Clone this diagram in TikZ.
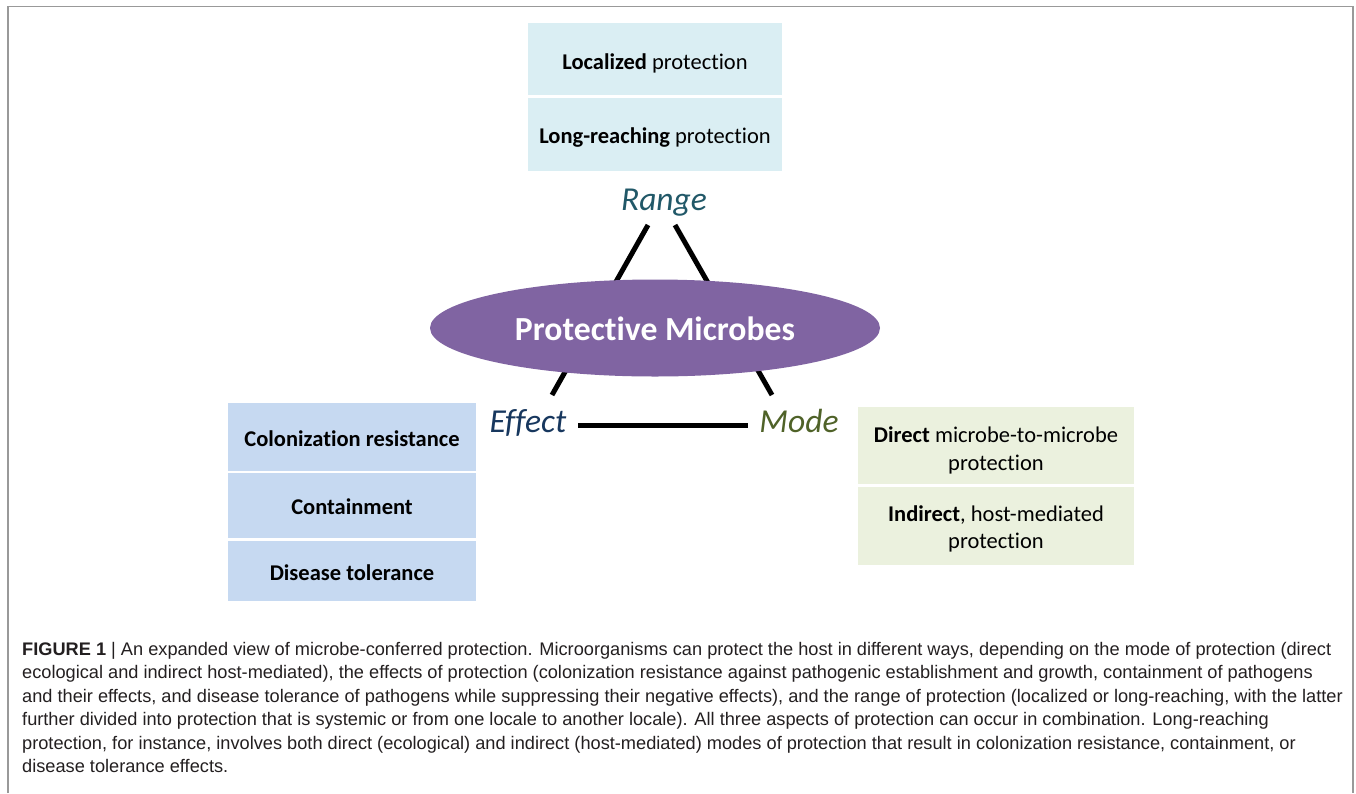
\documentclass[tikz,border=0pt]{standalone}
\usepackage{fontspec}
\setmainfont{Carlito}[Ligatures=NoCommon]
\newfontfamily\capfont{Liberation Sans}
\usetikzlibrary{shapes.geometric}
\definecolor{rangebg}{HTML}{DAEEF3}
\definecolor{effbg}{HTML}{C6D9F1}
\definecolor{modebg}{HTML}{EBF1DE}
\definecolor{microbe}{HTML}{8064A2}
\definecolor{rangecol}{HTML}{215868}
\definecolor{effcol}{HTML}{17375E}
\definecolor{modecol}{HTML}{4F6228}
\definecolor{framecol}{HTML}{999999}
\definecolor{capcol}{HTML}{231F20}
\newcommand{\laststrut}{\rule[-4.5pt]{0pt}{0pt}}
\begin{document}
\begin{tikzpicture}[x=1pt,y=-1pt,
  boxstyle/.style={inner sep=0pt, align=center, font=\fontsize{22.5}{27.4}\selectfont},
  oneline/.style={text height=22.5pt, text depth=4.5pt},
  rbox/.style={boxstyle, oneline, fill=rangebg, minimum width=254pt},
  ebox/.style={boxstyle, oneline, fill=effbg, minimum width=248pt, font=\fontsize{22.5}{27.4}\selectfont\bfseries},
  mbox/.style={boxstyle, fill=modebg, minimum width=276pt},
  aspect/.style={inner sep=0pt, text height=23.5pt, text depth=6.7pt, font=\fontsize{33.5}{38}\selectfont\itshape},
  link/.style={line width=5pt, black},
]
\useasboundingbox (0,0) rectangle (1356,793);
\draw[framecol, line width=1.5pt] (8,793) -- (8,6.5) -- (1353,6.5) -- (1353,793);

% range boxes
\node[rbox, minimum height=72pt, text height=24.5pt] (loc) at (655,59) {\textbf{Localized} protection};
\node[rbox, minimum height=73pt] (long) at (655,134.5) {\textbf{Long-reaching} protection};

% aspect labels
\node[aspect, text=rangecol] (range) at (664,202) {Range};
\node[aspect, text=effcol] (effect) at (528,424.5) {Effect};
\node[aspect, text=modecol] (mode) at (799,424) {Mode};

% connector ends
\coordinate (rl) at (648,225);
\coordinate (el) at (552,395);
\coordinate (rr) at (675,225);
\coordinate (mr) at (772,395);
\coordinate (eh) at (578,425);
\coordinate (mh) at (748,425);
\draw[link] (rl) -- (el);
\draw[link] (rr) -- (mr);
\draw[link] (eh) -- (mh);

% central ellipse
\node[ellipse, fill=microbe, minimum width=450pt, minimum height=97pt, inner sep=0pt,
  text height=32pt, text depth=6.7pt,
  text=white, font=\fontsize{33.7}{38}\selectfont\bfseries] (pm) at (655,328) {Protective Microbes};

% effect boxes
\node[ebox, minimum height=68pt] (col) at (352,437) {Colonization resistance};
\node[ebox, minimum height=65pt] (cont) at (352,505.5) {Containment};
\node[ebox, minimum height=60pt] (dis) at (352,571) {Disease tolerance};

% mode boxes
\node[mbox, minimum height=77pt] (dir) at (996,445.5) {\rule{0pt}{26.5pt}\textbf{Direct} microbe-to-microbe\\protection\laststrut};
\node[mbox, minimum height=78pt] (ind) at (996,526) {\rule{0pt}{22.3pt}\textbf{Indirect}, host-mediated\\protection\laststrut};

% caption
\node[anchor=north west, inner sep=0pt, align=left, text=capcol,
  font=\capfont\fontsize{18.2}{23.4}\selectfont] (cap) at (22,642) {%
\textbf{FIGURE 1} | An expanded view of microbe-conferred protection. Microorganisms can protect the host in different ways, depending on the mode of protection (direct\\
ecological and indirect host-mediated), the effects of protection (colonization resistance against pathogenic establishment and growth, containment of pathogens\\
and their effects, and disease tolerance of pathogens while suppressing their negative effects), and the range of protection (localized or long-reaching, with the latter\\
further divided into protection that is systemic or from one locale to another locale). All three aspects of protection can occur in combination. Long-reaching\\
protection, for instance, involves both direct (ecological) and indirect (host-mediated) modes of protection that result in colonization resistance, containment, or\\
disease tolerance effects.};
\end{tikzpicture}
\end{document}
